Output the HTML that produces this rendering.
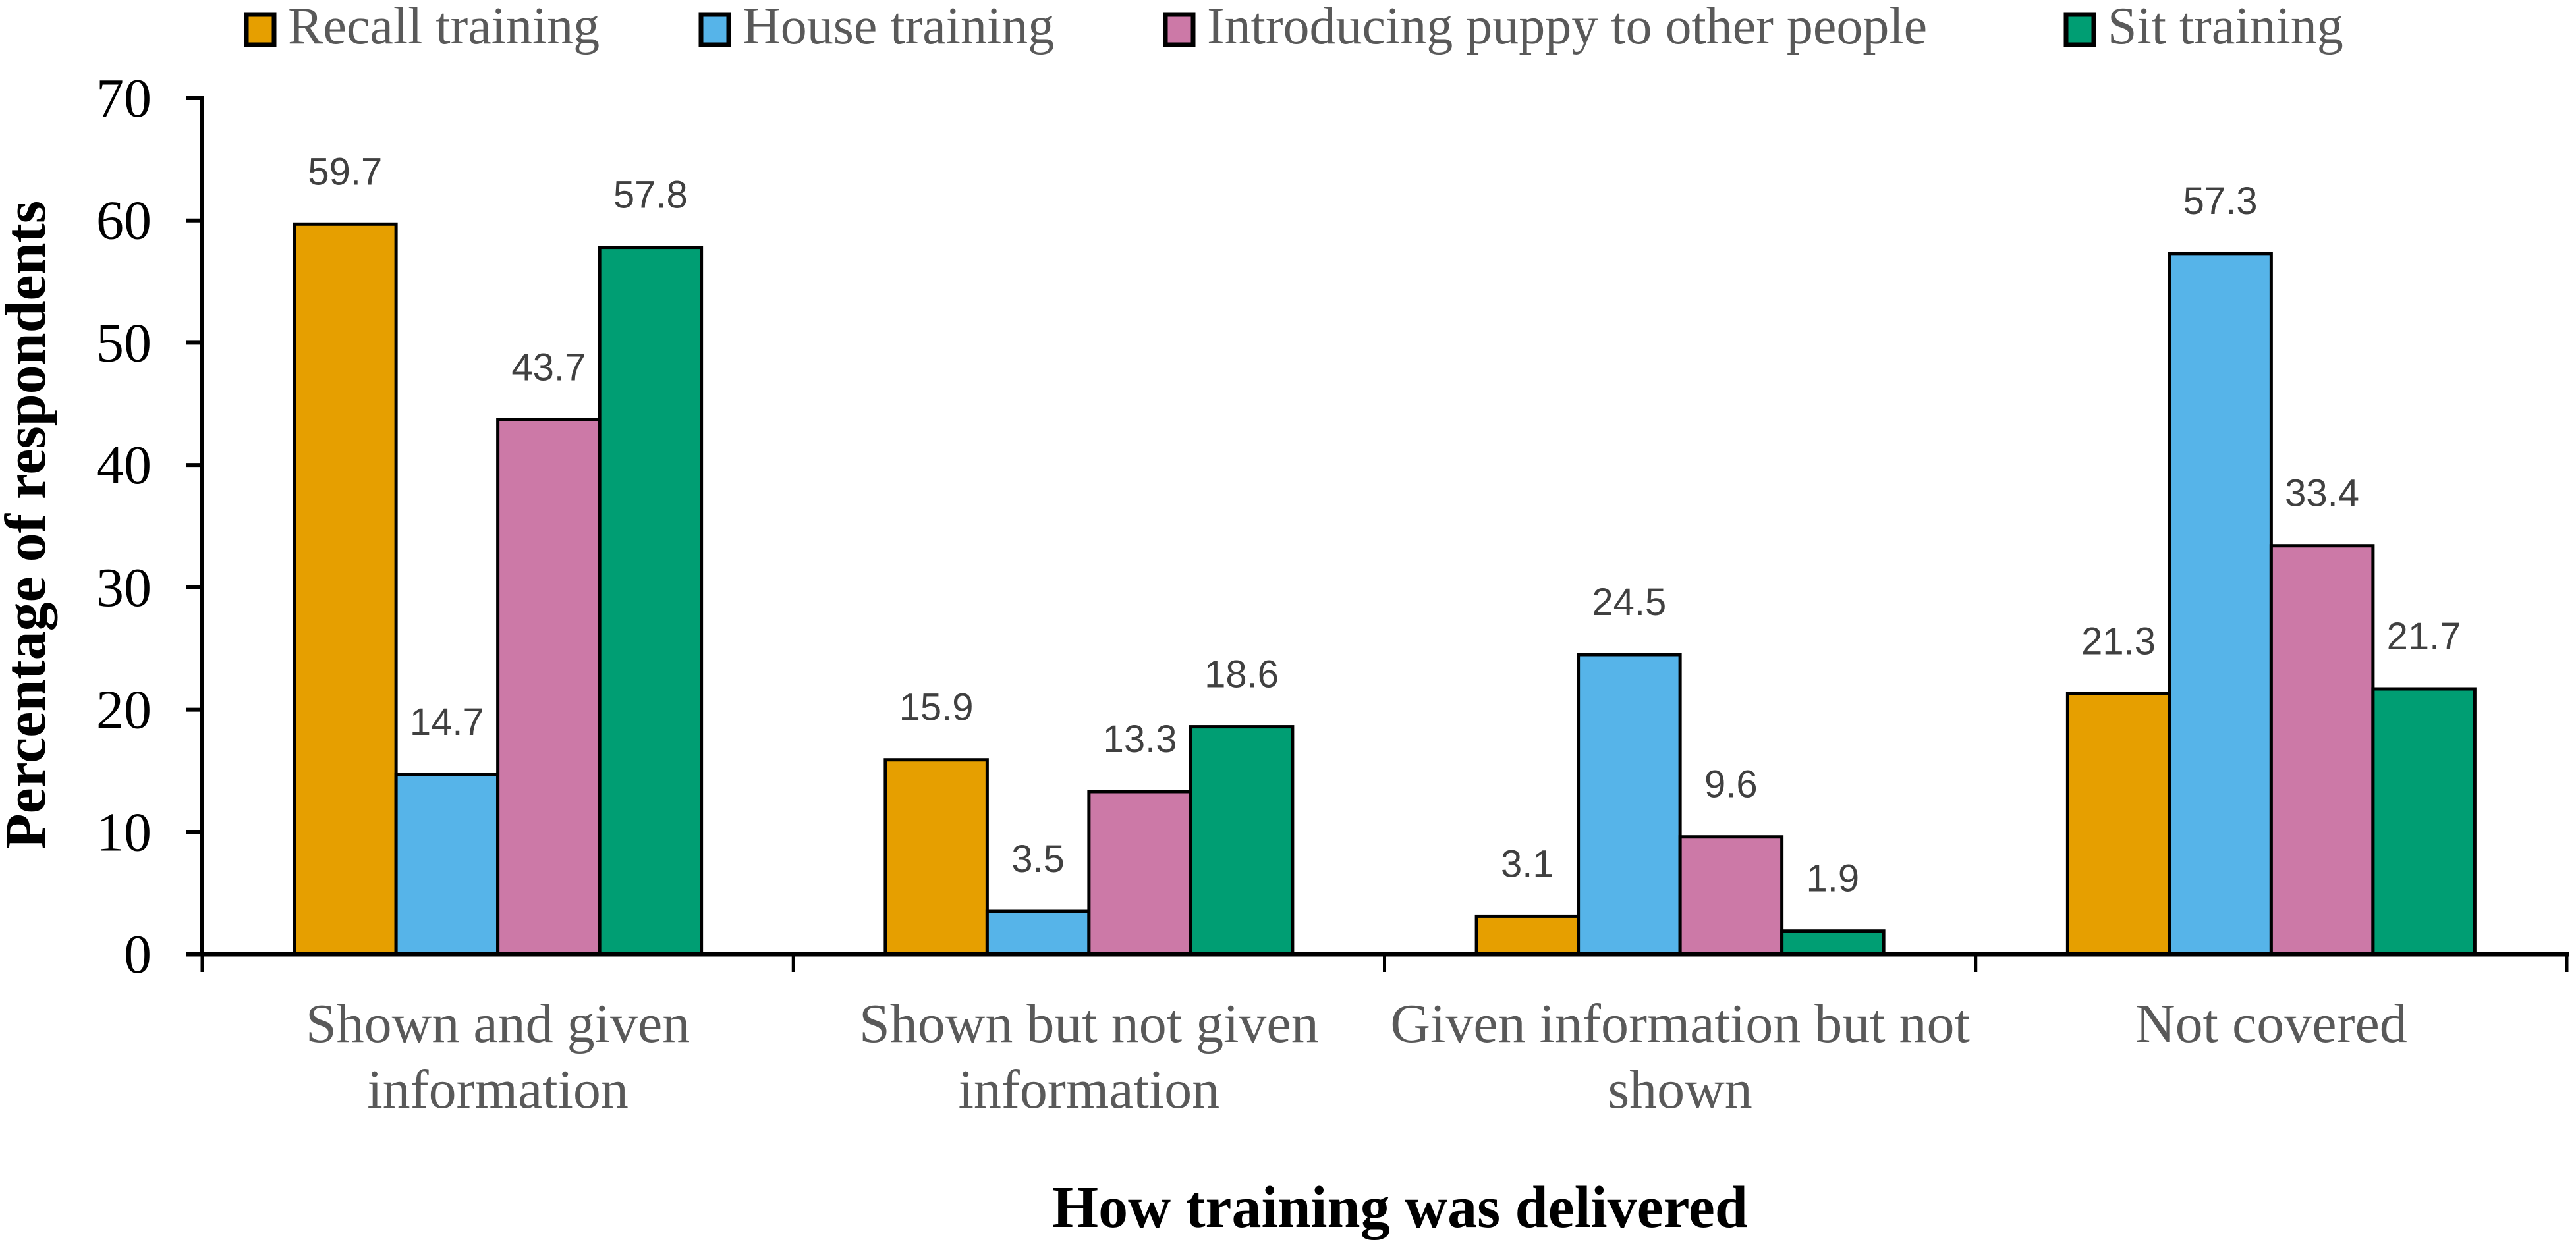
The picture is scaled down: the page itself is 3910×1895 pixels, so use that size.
<!DOCTYPE html>
<html><head><meta charset="utf-8"><style>
html,body{margin:0;padding:0;background:#fff;}
svg{display:block;}
</style></head><body>
<svg id="chart" width="3910" height="1895" viewBox="0 0 3910 1895" xmlns="http://www.w3.org/2000/svg">
<g id="legend"></g>
<g id="bars"></g>
<g id="labels"></g>
<g id="axes"></g>
<text transform="translate(68,797) rotate(-90)" text-anchor="middle" font-family="Liberation Serif, serif" font-weight="bold" font-size="88" fill="#000">Percentage of respondents</text>
<text x="2125" y="1863" text-anchor="middle" font-family="Liberation Serif, serif" font-weight="bold" font-size="90" fill="#000">How training was delivered</text>
</svg>
<script>
const categories = [["Shown and given","information"],["Shown but not given","information"],["Given information but not","shown"],["Not covered"]];
const seriesNames = ["Recall training","House training","Introducing puppy to other people","Sit training"];
const recall = [59.7, 15.9, 3.1, 21.3];
const house = [14.7, 3.5, 24.5, 57.3];
const introducing = [43.7, 13.3, 9.6, 33.4];
const sit = [57.8, 18.6, 1.9, 21.7];
const yTicks = [0,10,20,30,40,50,60,70];

const series = [recall, house, introducing, sit];
const colors = ["#E69F00","#56B4E9","#CC79A7","#009E73"];
const NS = "http://www.w3.org/2000/svg";
const X0 = 307, X1 = 3896, Y0 = 1449, YTOP = 149, YMAX = 70;
const catW = (X1 - X0) / categories.length;
const barW = 154.5;
function y(v){ return Y0 - (v / YMAX) * (Y0 - YTOP); }
function xCat(i){ return X0 + catW * i; }
function xBar(i, s){ return xCat(i) + (catW - barW * series.length) / 2 + s * barW; }
function mk(tag, attrs, parent){ const e = document.createElementNS(NS, tag); for (const k in attrs) e.setAttribute(k, attrs[k]); parent.appendChild(e); return e; }

const bars = document.getElementById('bars');
const labels = document.getElementById('labels');
series.forEach((vals, s) => {
  vals.forEach((v, i) => {
    const r = mk('rect', {x: xBar(i, s), y: y(v), width: barW, height: Y0 - y(v), fill: colors[s], stroke: '#000', 'stroke-width': 5}, bars);
    
    
    const t = mk('text', {x: xBar(i, s) + barW / 2, y: y(v) - 60, 'text-anchor': 'middle', 'font-family': 'Liberation Sans, sans-serif', 'font-size': 58, fill: '#404040'}, labels);
    t.textContent = v.toFixed(1);
    
    
  });
});

const axes = document.getElementById('axes');
const ya = mk('line', {x1: X0, y1: YTOP - 3, x2: X0, y2: Y0, stroke: '#000', 'stroke-width': 6}, axes);


const xa = mk('line', {x1: 283, y1: Y0, x2: X1 + 3, y2: Y0, stroke: '#000', 'stroke-width': 7}, axes);


yTicks.forEach(v => {
  const tk = mk('line', {x1: 283, y1: y(v), x2: X0, y2: y(v), stroke: '#000', 'stroke-width': 6}, axes);
  
  
  const t = mk('text', {x: 230, y: y(v) + 28, 'text-anchor': 'end', 'font-family': 'Liberation Serif, serif', 'font-size': 84, fill: '#000'}, axes);
  t.textContent = v;
  
  
});
for (let i = 0; i <= categories.length; i++) {
  const tk = mk('line', {x1: xCat(i), y1: Y0, x2: xCat(i), y2: 1476, stroke: '#000', 'stroke-width': 5}, axes);
  
  
}
categories.forEach((lines, i) => {
  lines.forEach((ln, j) => {
    const t = mk('text', {x: xCat(i) + catW / 2, y: 1582 + j * 100, 'text-anchor': 'middle', 'font-family': 'Liberation Serif, serif', 'font-size': 84, fill: '#595959'}, axes);
    t.textContent = ln;
    
    
  });
});

const legend = document.getElementById('legend');
const legX = [371, 1061, 1766, 3133];
seriesNames.forEach((n, s) => {
  const g = mk('g', {}, legend);
  
  
  const r = mk('rect', {x: legX[s] + 3, y: 22, width: 42, height: 46, fill: colors[s], stroke: '#000', 'stroke-width': 7}, g);
  
  
  const t = mk('text', {x: legX[s] + 66, y: 66, 'font-family': 'Liberation Serif, serif', 'font-size': 80, fill: '#595959'}, g);
  t.textContent = n;
  
  
});
</script>
</body></html>
